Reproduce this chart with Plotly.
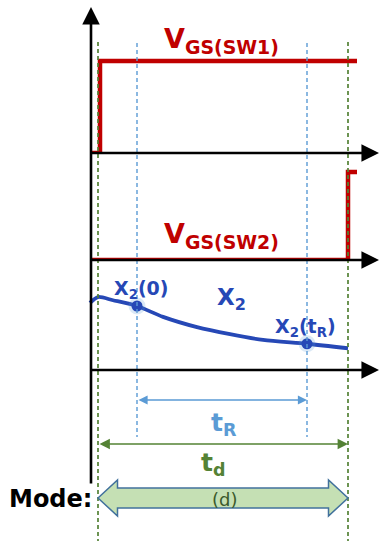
import plotly.graph_objects as go

W, H = 380, 541

# Time axis in arbitrary units: SW1 turns on at t = 0, SW2 turns on at t = T_D
T_D = 10.0
T_R = (1.56, 8.36)          # start / end of the resonant interval t_R
T_MIN, T_MAX = -3.92, 11.28  # visible time window
T_LEFT, T_RIGHT = -0.32, 10.36

# Gate signals (normalised 0 / 1)
sw1_t = [T_LEFT, 0.08, 0.08, T_RIGHT]
sw1_v = [0, 0, 1, 1]
sw2_t = [T_LEFT, T_D, T_D, T_RIGHT]
sw2_v = [0, 0, 1, 1]

# State variable X2 over the dead time
x2_t = [-0.32, 0.0, 0.6, 1.56, 2.6, 3.96, 5.28, 6.6, 8.36, 10.0]
x2_v = [1.05, 1.14, 1.09, 1.0, 0.83, 0.67, 0.56, 0.47, 0.41, 0.34]
mark_idx = [3, 8]

RED = "#C00000"
BLUE = "#2648B6"
LBLUE = "#5B9BD5"
GREEN = "#548235"
FONT = "DejaVu Sans"


def yp(py):
    """pixel row -> paper y"""
    return 1 - py / H


def tx(px):
    """pixel column -> time units"""
    return (px - 98) / 25.0


fig = go.Figure()

fig.add_trace(go.Scatter(x=sw1_t, y=sw1_v, mode="lines", yaxis="y", cliponaxis=False,
                         line=dict(color=RED, width=4.5), hoverinfo="skip"))
fig.add_trace(go.Scatter(x=sw2_t, y=sw2_v, mode="lines", yaxis="y2", cliponaxis=False,
                         line=dict(color=RED, width=4.5), hoverinfo="skip"))
fig.add_trace(go.Scatter(x=x2_t, y=x2_v, mode="lines", yaxis="y3", cliponaxis=False,
                         line=dict(color=BLUE, width=3.8, shape="spline", smoothing=0.8),
                         hoverinfo="skip"))
fig.add_trace(go.Scatter(x=[x2_t[i] for i in mark_idx], y=[x2_v[i] for i in mark_idx],
                         mode="markers", yaxis="y3",
                         marker=dict(color="rgba(91,155,213,0.22)", size=17),
                         hoverinfo="skip"))
fig.add_trace(go.Scatter(x=[x2_t[i] for i in mark_idx], y=[x2_v[i] for i in mark_idx],
                         mode="markers", yaxis="y3",
                         marker=dict(color=BLUE, size=11),
                         hoverinfo="skip"))

shapes = []
# dead-time boundaries
for t in (0.0, T_D):
    shapes.append(dict(type="line", xref="x", yref="paper", x0=t, x1=t,
                       y0=yp(42), y1=0, line=dict(color=GREEN, width=1.7, dash="4px,3px")))
# resonant interval boundaries
for t in T_R:
    shapes.append(dict(type="line", xref="x", yref="paper", x0=t, x1=t,
                       y0=yp(43), y1=yp(437), line=dict(color=LBLUE, width=1.4, dash="4px,3px")))

# block arrow for the operating mode
h = 0.78
ya, yb, yc, yd, ye = yp(480), yp(488), yp(498), yp(508), yp(516)
path = (f"M 0,{yc} L {h},{ya} L {h},{yb} L {T_D-h},{yb} L {T_D-h},{ya} "
        f"L {T_D},{yc} L {T_D-h},{ye} L {T_D-h},{yd} L {h},{yd} L {h},{ye} Z")
shapes.append(dict(type="path", xref="x", yref="paper", path=path,
                   fillcolor="#C5E0B4", line=dict(color="#41719C", width=1.5)))

ann = []


def arrow(t_tip, py_tip, t_tail, py_tail, color, width, size, both=False):
    ann.append(dict(x=t_tip, y=yp(py_tip), xref="x", yref="paper",
                    ax=t_tail, ay=py_tail - py_tip, axref="x", ayref="pixel",
                    showarrow=True, arrowhead=2, startarrowhead=2,
                    arrowside="end+start" if both else "end",
                    arrowwidth=width, arrowsize=size, startarrowsize=size,
                    arrowcolor=color, text=""))


# axes
arrow(tx(91), 7, tx(91), 485, "black", 2.6, 1.35)
for py in (153, 260, 370):
    arrow(tx(379), py, tx(89), py, "black", 2.6, 1.35)

# interval markers
arrow(T_R[1], 400, T_R[0], 400, LBLUE, 1.4, 1.3, both=True)
arrow(T_D, 444, 0.0, 444, GREEN, 1.6, 1.3, both=True)


def label(t, py, text, color, size, family=FONT, weight=700):
    ann.append(dict(x=t, y=yp(py), xref="x", yref="paper", showarrow=False,
                    text=text,
                    font=dict(color=color, size=size, family=family, weight=weight),
                    xanchor="center", yanchor="middle"))


label(tx(221), 40, "V<sub>GS(SW1)</sub>", RED, 27)
label(tx(221), 236, "V<sub>GS(SW2)</sub>", RED, 27)
label(tx(141), 289, "X<sub>2</sub>(0)", BLUE, 19)
label(tx(231), 299, "X<sub>2</sub>", BLUE, 23)
label(tx(305), 327, "X<sub>2</sub>(t<sub>R</sub>)", BLUE, 19)
label(tx(224), 424, "t<sub>R</sub>", LBLUE, 25)
label(tx(213), 464, "t<sub>d</sub>", GREEN, 25)
label(tx(224), 499, "(d)", "#3B5A2B", 18, weight=400)
label(tx(50), 499, "Mode:", "black", 24)

fig.update_layout(
    width=W, height=H, margin=dict(l=0, r=0, t=0, b=0),
    paper_bgcolor="white", plot_bgcolor="white", showlegend=False,
    xaxis=dict(range=[T_MIN, T_MAX], visible=False, domain=[0, 1], fixedrange=True),
    yaxis=dict(domain=[yp(153), yp(8)], range=[0, 145 / 92], visible=False),
    yaxis2=dict(domain=[yp(260), yp(153)], range=[0, 107 / 88], visible=False, anchor="x"),
    yaxis3=dict(domain=[yp(370), yp(260)], range=[0, 110 / 64], visible=False, anchor="x"),
    shapes=shapes, annotations=ann,
)

fig.write_html("out.html")
